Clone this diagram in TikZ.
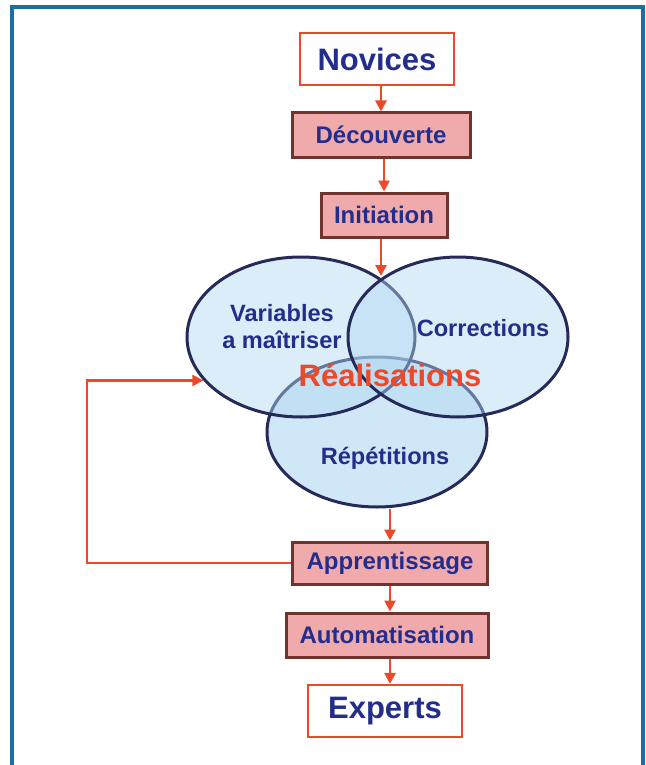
\documentclass[tikz,border=0pt]{standalone}
\usepackage{fontspec}
\setmainfont{Liberation Sans}
\usetikzlibrary{positioning, arrows.meta, shapes.geometric}
\definecolor{txtblue}{RGB}{35,45,140}
\definecolor{flowred}{RGB}{238,72,42}
\definecolor{boxpink}{RGB}{240,170,172}
\definecolor{boxbrown}{RGB}{110,52,45}
\definecolor{ellblue}{RGB}{175,215,240}
\definecolor{ellline}{RGB}{38,42,88}
\definecolor{frameblue}{RGB}{28,110,160}

\begin{document}
\begin{tikzpicture}[x=0.5pt, y=-0.5pt, text=txtblue,
  endbox/.style = {draw=flowred, line width=1.1pt, fill=white, minimum height=26pt, minimum width=77pt, font=\fontsize{15.5}{18}\selectfont\bfseries},
  stepbox/.style = {draw=boxbrown, line width=1.5pt, fill=boxpink, minimum height=22pt, font=\fontsize{12}{14}\selectfont\bfseries},
  zone/.style = {draw=ellline, line width=1.5pt, ellipse, fill=ellblue, fill opacity=0.45},
  zonetxt/.style = {font=\fontsize{11.8}{13.5}\selectfont\bfseries, align=center},
  flow/.style = {draw=flowred, line width=1.4pt, -{Triangle[length=5.5pt, width=5.5pt]}}]
        \useasboundingbox (0,0) rectangle (646,765);
        \draw[frameblue, line width=1.6pt] (12,800) -- (12,7) -- (643,7) -- (643,800);
        % top of the path
        \node[endbox] (nov) at (377,59) {Novices};
        \node[stepbox, minimum width=89pt] (dec) at (381,135) {Découverte};
        \node[stepbox, minimum width=63pt] (ini) at (384,215) {Initiation};
        % the three zones
        \node[zone, fill opacity=0.6, minimum width=110pt, minimum height=75pt] (rep) at (377,432) {};
        \node[zone, minimum width=114pt, minimum height=80pt] (var) at (301,337) {};
        \node[zone, minimum width=110pt, minimum height=80pt] (cor) at (458,337) {};
        \node[zonetxt] (vartxt) at (282,327) {Variables\\a maîtriser};
        \node[zonetxt] (cortxt) at (483,328) {Corrections};
        \node[zonetxt] (reptxt) at (385,458) {Répétitions};
        \node[text=flowred, font=\fontsize{15.5}{18}\selectfont\bfseries] (real) at (390,375) {Réalisations};
        % bottom of the path
        \node[stepbox, minimum width=97.5pt, minimum height=21pt] (appr) at (390,563) {Apprentissage};
        \node[stepbox, minimum width=101pt] (auto) at (387,635) {Automatisation};
        \node[endbox] (exp) at (385,711) {Experts};
        \coordinate (top) at (381,276);
        \draw[flow] (dec.north |- nov.south) -- (dec.north);
        \draw[flow] (ini.north |- dec.south) -- (ini.north);
        \draw[flow] (ini.south -| top) -- (top);
        \draw[flow] (appr.north |- rep.south) -- (appr.north);
        \draw[flow] (appr.south) -- (appr.south |- auto.north);
        \draw[flow] (appr.south |- auto.south) -- (appr.south |- exp.north);
        \draw[flow] (appr.west) -- ++(-204,0) |- (var.204);
\end{tikzpicture}
\end{document}
